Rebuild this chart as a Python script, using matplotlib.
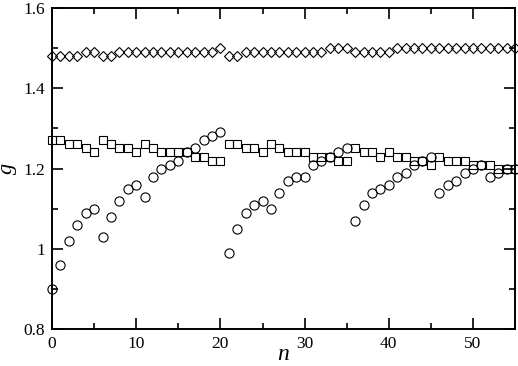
import numpy as np
import matplotlib
matplotlib.use('Agg')
import matplotlib.pyplot as plt
from matplotlib.ticker import MultipleLocator, FixedFormatter, FixedLocator

# index n
n = np.arange(0, 56)

# diamonds (top series)
g_diamond = [1.48, 1.48, 1.48, 1.48, 1.49, 1.49, 1.48, 1.48, 1.49, 1.49,
             1.49, 1.49, 1.49, 1.49, 1.49, 1.49, 1.49, 1.49, 1.49, 1.49,
             1.50, 1.48, 1.48, 1.49, 1.49, 1.49, 1.49, 1.49, 1.49, 1.49,
             1.49, 1.49, 1.49, 1.50, 1.50, 1.50, 1.49, 1.49, 1.49, 1.49,
             1.49, 1.50, 1.50, 1.50, 1.50, 1.50, 1.50, 1.50, 1.50, 1.50,
             1.50, 1.50, 1.50, 1.50, 1.50, 1.50]

# squares
g_square = [1.27, 1.27, 1.26, 1.26, 1.25, 1.24, 1.27, 1.26, 1.25, 1.25,
            1.24, 1.26, 1.25, 1.24, 1.24, 1.24, 1.24, 1.23, 1.23, 1.22,
            1.22, 1.26, 1.26, 1.25, 1.25, 1.24, 1.26, 1.25, 1.24, 1.24,
            1.24, 1.23, 1.23, 1.23, 1.22, 1.22, 1.25, 1.24, 1.24, 1.23,
            1.24, 1.23, 1.23, 1.22, 1.22, 1.21, 1.23, 1.22, 1.22, 1.22,
            1.21, 1.21, 1.21, 1.20, 1.20, 1.20]

# circles
g_circle = [0.90, 0.96, 1.02, 1.06, 1.09, 1.10, 1.03, 1.08, 1.12, 1.15,
            1.16, 1.13, 1.18, 1.20, 1.21, 1.22, 1.24, 1.25, 1.27, 1.28,
            1.29, 0.99, 1.05, 1.09, 1.11, 1.12, 1.10, 1.14, 1.17, 1.18,
            1.18, 1.21, 1.22, 1.23, 1.24, 1.25, 1.07, 1.11, 1.14, 1.15,
            1.16, 1.18, 1.19, 1.21, 1.22, 1.23, 1.14, 1.16, 1.17, 1.19,
            1.20, 1.21, 1.18, 1.19, 1.20, 1.20]

ytick_vals = [0.8, 1.0, 1.2, 1.4, 1.6]
ytick_labels = ['0.8', '1', '1.2', '1.4', '1.6']

plt.rcParams['font.family'] = ['Liberation Serif', 'DejaVu Serif']
plt.rcParams['mathtext.fontset'] = 'custom'
plt.rcParams['mathtext.it'] = 'Liberation Serif:italic'

fig = plt.figure(figsize=(5.18, 3.66), dpi=100)
ax = fig.add_axes([0.1004, 0.101, 0.894, 0.877])

mk = dict(linestyle='none', markerfacecolor='none', markeredgecolor='black',
          markeredgewidth=0.8)
ax.plot(n, g_diamond, marker='D', markersize=5.6, clip_on=False, **mk)
ax.plot(n, g_square, marker='s', markersize=6.0, clip_on=False, **mk)
ax.plot(n, g_circle, marker='o', markersize=6.6, clip_on=False, **mk)

ax.set_xlim(0, 55)
ax.set_ylim(0.8, 1.6)

ax.xaxis.set_major_locator(MultipleLocator(10))
ax.xaxis.set_minor_locator(MultipleLocator(5))
ax.yaxis.set_major_locator(FixedLocator(ytick_vals))
ax.yaxis.set_major_formatter(FixedFormatter(ytick_labels))
ax.yaxis.set_minor_locator(MultipleLocator(0.1))

ax.tick_params(which='both', direction='in', top=True, right=True,
               labelsize=12.5, width=1.2, colors='black')
ax.tick_params(which='major', length=8, pad=5)
ax.tick_params(which='minor', length=4)
for s in ax.spines.values():
    s.set_linewidth(1.4)

ax.set_xlabel('$n$', fontsize=17, labelpad=-6)
ax.set_ylabel('$g$', fontsize=16, labelpad=3)

fig.savefig('out.png', dpi=100)
